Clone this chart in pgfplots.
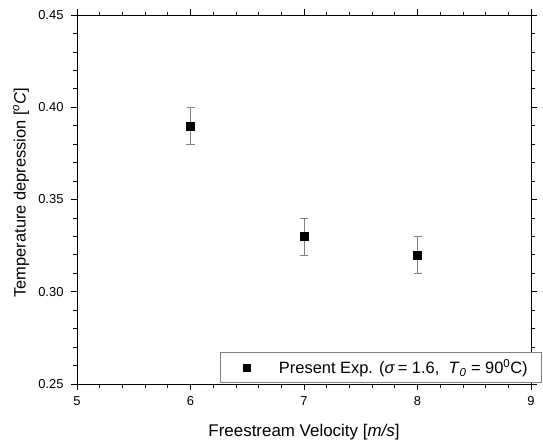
\documentclass[border=0pt]{standalone}
\usepackage{pgfplots}
\pgfplotsset{compat=1.18}
\usepackage{fontspec}
\setmainfont{Liberation Sans}
\begin{document}
\begin{tikzpicture}[x=1bp,y=1bp]
\begin{axis}[
  name=ax,
  scale only axis,
  width=454bp, height=369bp,
  xmin=5, xmax=9, ymin=0.25, ymax=0.45,
  xtick={5,6,7,8,9},
  ytick={0.25,0.30,0.35,0.40,0.45},
  minor x tick num=4, minor y tick num=4,
  tick align=outside,
  major tick length=6bp, minor tick length=3.5bp,
  every tick/.style={black, line width=0.8pt},
  axis line style={black, line width=0.8pt},
  /pgf/number format/assume math mode=true,
  yticklabel style={xshift=-4bp, /pgf/number format/.cd, fixed, fixed zerofill, precision=2},
  xticklabel style={yshift=-3bp},
  ticklabel style={font=\fontsize{13}{15}\selectfont},
  xlabel={Freestream Velocity [\textit{m/s}]},
  ylabel={Temperature depression [\textsuperscript{\textit{o}}\textit{C}]},
  xlabel style={font=\fontsize{17}{20}\selectfont, at={(axis description cs:0.5,-0.141)}, anchor=base},
  ylabel style={font=\fontsize{16.5}{19}\selectfont, at={(axis description cs:-0.123,0.519)}, anchor=center},
  legend style={at={(1,0)}, xshift=11bp, yshift=1bp, anchor=south east, draw=gray, line width=0.6pt, font=\fontsize{16.5}{19}\selectfont, inner xsep=12bp, inner ysep=5.5bp, legend cell align=left},
  legend image code/.code={\path[draw=none,fill=none] (0bp,0bp) -- (40bp,0bp); \draw[#1, mark size=3.5bp] plot coordinates {(14.5bp,0bp)};},
  clip=false,
]
\addplot[only marks, mark=square*, mark size=4bp, black,
  error bars/.cd, y dir=both, y explicit,
  error bar style={gray, line width=0.6pt},
  error mark options={rotate=90, mark size=4bp, gray, line width=0.6pt}]
  coordinates {(6,0.39) +- (0,0.01) (7,0.33) +- (0,0.01) (8,0.32) +- (0,0.01)};
\addlegendentry{\ Present Exp. (\textit{σ}\,= 1.6,\ \ \textit{T}\textsubscript{\textit{0}} = 90\textsuperscript{0}C)}
\end{axis}
\path (ax.south west) ++(-77bp,-56bp) rectangle ([shift={(12bp,15bp)}]ax.north east);
\end{tikzpicture}
\end{document}
